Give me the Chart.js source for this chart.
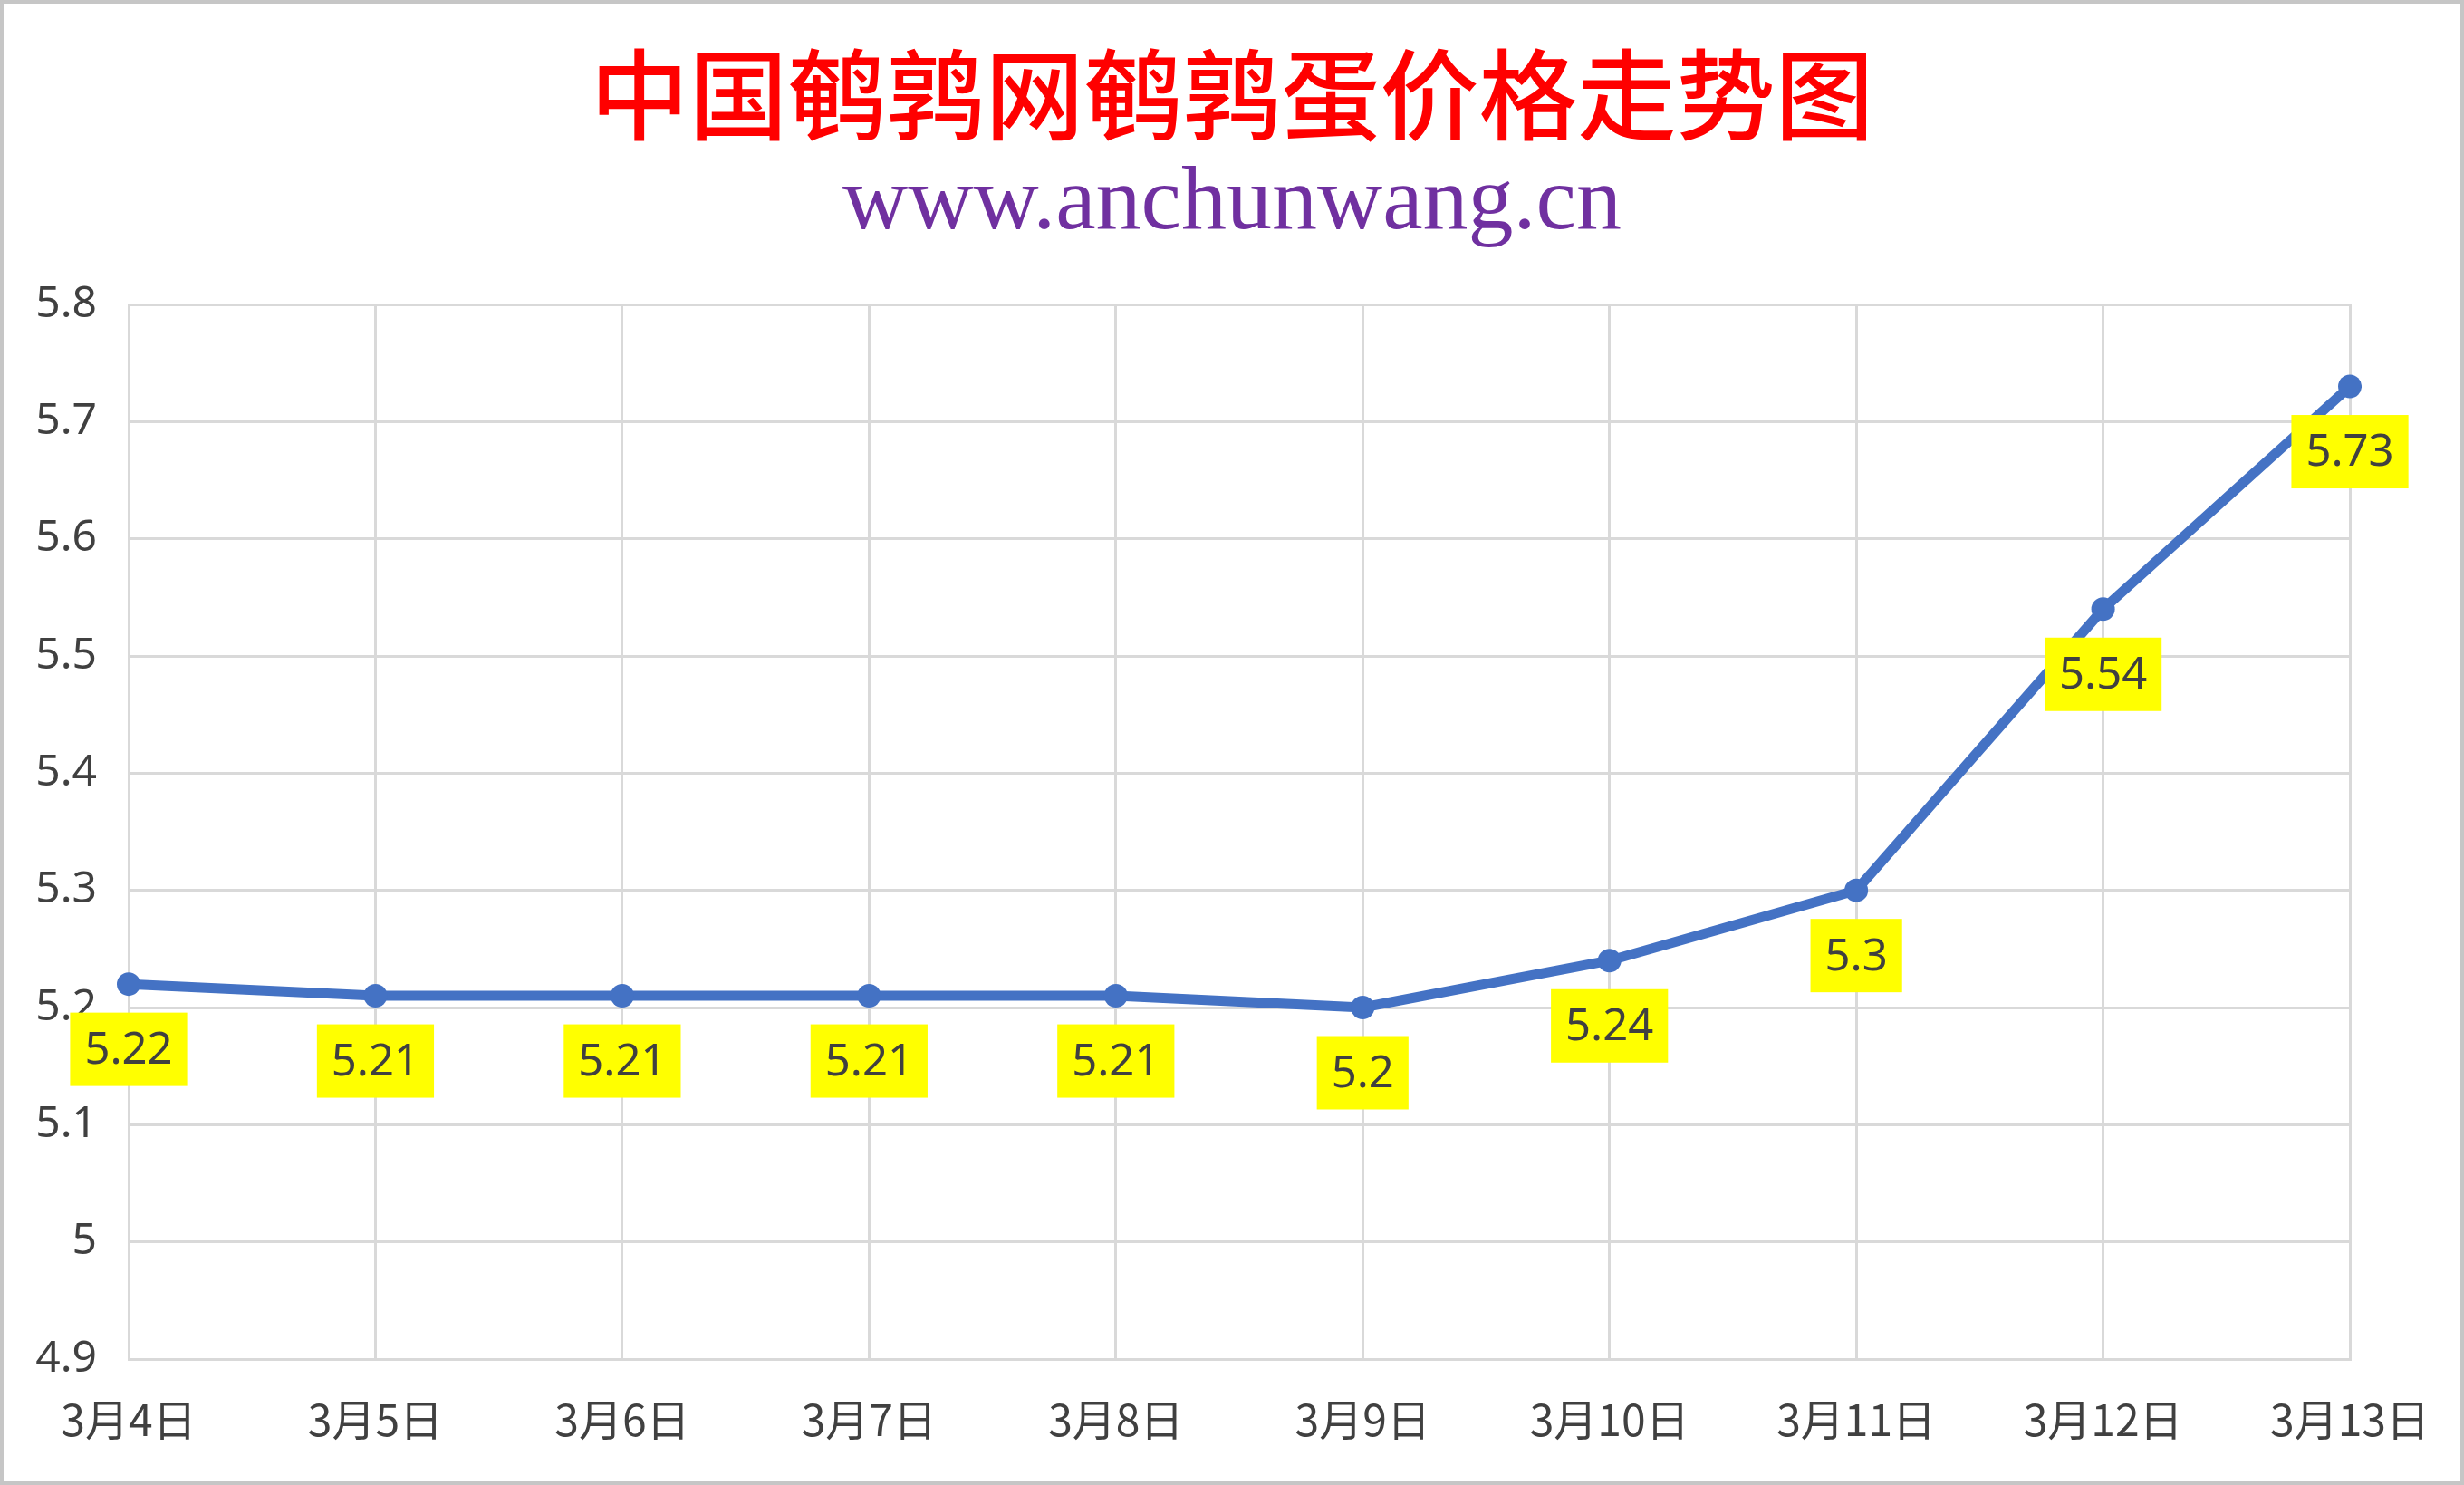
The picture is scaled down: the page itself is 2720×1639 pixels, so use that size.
<!DOCTYPE html>
<html>
<head>
<meta charset="utf-8">
<script src="https://cdn.jsdelivr.net/npm/chart.js@4.4.1/dist/chart.umd.min.js"></script>
<style>
  html, body { margin: 0; padding: 0; background: #ffffff; }
  #wrap { width: 2720px; height: 1639px; }
</style>
</head>
<body>
<div id="wrap"><canvas id="c" width="2720" height="1639"></canvas></div>
<script>
const titleText = '中国鹌鹑网鹌鹑蛋价格走势图';
const subtitleText = 'www.anchunwang.cn';
const categories = ['3月4日', '3月5日', '3月6日', '3月7日', '3月8日', '3月9日', '3月10日', '3月11日', '3月12日', '3月13日'];
const prices = [5.22, 5.21, 5.21, 5.21, 5.21, 5.2, 5.24, 5.3, 5.54, 5.73];
const yTickValues = [4.9, 5.0, 5.1, 5.2, 5.3, 5.4, 5.5, 5.6, 5.7, 5.8];
const yTickLabels = ['4.9', '5', '5.1', '5.2', '5.3', '5.4', '5.5', '5.6', '5.7', '5.8'];

const bgBorder = {
  id: 'bgBorder',
  beforeDraw(chart) {
    const ctx = chart.ctx;
    ctx.save();
    ctx.fillStyle = '#ffffff';
    ctx.fillRect(0, 0, chart.width, chart.height);
    ctx.restore();
  },
  afterDraw(chart) {
    const ctx = chart.ctx;
    ctx.save();
    ctx.strokeStyle = '#C6C6C6';
    ctx.lineWidth = 4;
    ctx.strokeRect(2, 2, chart.width - 4, chart.height - 4);
    ctx.restore();
  }
};

const dataLabels = {
  id: 'dataLabels',
  afterDatasetsDraw(chart) {
    const ctx = chart.ctx;
    const meta = chart.getDatasetMeta(0);
    const ds = chart.data.datasets[0];
    ctx.save();
    ctx.font = '49px "Noto Sans", "Noto Sans CJK SC", sans-serif';
    ctx.textAlign = 'center';
    ctx.textBaseline = 'middle';
    meta.data.forEach((pt, i) => {
      const txt = String(ds.data[i]);
      const w = ctx.measureText(txt).width + 32;
      const h = 81;
      const cx = pt.x;
      const cy = pt.y + 72;
      ctx.fillStyle = '#FFFF00';
      ctx.fillRect(cx - w / 2, cy - h / 2, w, h);
      ctx.fillStyle = '#404040';
      ctx.fillText(txt, cx, cy + 2);
    });
    ctx.restore();
  }
};

new Chart(document.getElementById('c'), {
  type: 'line',
  data: {
    labels: categories,
    datasets: [{
      data: prices,
      yAxisID: 'y',
      borderColor: '#4472C4',
      backgroundColor: '#4472C4',
      borderWidth: 11,
      pointRadius: 13,
      pointHoverRadius: 13,
      pointBackgroundColor: '#4472C4',
      pointBorderWidth: 0,
      tension: 0,
      fill: false
    }]
  },
  options: {
    responsive: false,
    animation: false,
    devicePixelRatio: 1,
    layout: { padding: { left: 0, right: 0, top: 0, bottom: 0 } },
    plugins: {
      legend: { display: false },
      tooltip: { enabled: false },
      title: {
        display: true,
        text: titleText,
        color: '#FF0000',
        font: { family: '"Noto Sans CJK SC", sans-serif', size: 109, weight: '500', lineHeight: 1.0 },
        padding: { top: 50, bottom: 0 }
      },
      subtitle: {
        display: true,
        text: subtitleText,
        color: '#7030A0',
        font: { family: '"Liberation Serif", serif', size: 100, weight: 'normal', lineHeight: 1.0 },
        padding: { top: 17, bottom: 60 }
      }
    },
    scales: {
      x: {
        type: 'category',
        offset: false,
        grid: { color: '#D9D9D9', lineWidth: 3, drawTicks: false },
        border: { color: '#D9D9D9', width: 3 },
        ticks: {
          color: '#404040',
          font: { family: '"Noto Sans CJK SC", sans-serif', size: 48 },
          padding: 38,
          maxRotation: 0,
          autoSkip: false
        },
        afterFit(scale) { scale.height = 139; }
      },
      y: {
        type: 'linear',
        position: 'left',
        min: 4.9,
        max: 5.8,
        grid: { color: '#D9D9D9', lineWidth: 3, drawTicks: false },
        border: { display: false },
        afterBuildTicks(scale) { scale.ticks = yTickValues.map(v => ({ value: v })); },
        ticks: {
          color: '#404040',
          font: { family: '"Noto Sans", "Noto Sans CJK SC", sans-serif', size: 48 },
          padding: 35,
          callback(value) {
            const idx = yTickValues.findIndex(v => Math.abs(v - value) < 1e-6);
            return idx >= 0 ? yTickLabels[idx] : '';
          }
        },
        afterFit(scale) { scale.width = 142; }
      },
      yRight: {
        type: 'linear',
        position: 'right',
        min: 4.9,
        max: 5.8,
        grid: { display: false, drawTicks: false },
        border: { display: false },
        ticks: { display: false },
        afterFit(scale) { scale.width = 116; }
      }
    }
  },
  plugins: [bgBorder, dataLabels]
});
</script>
</body>
</html>
